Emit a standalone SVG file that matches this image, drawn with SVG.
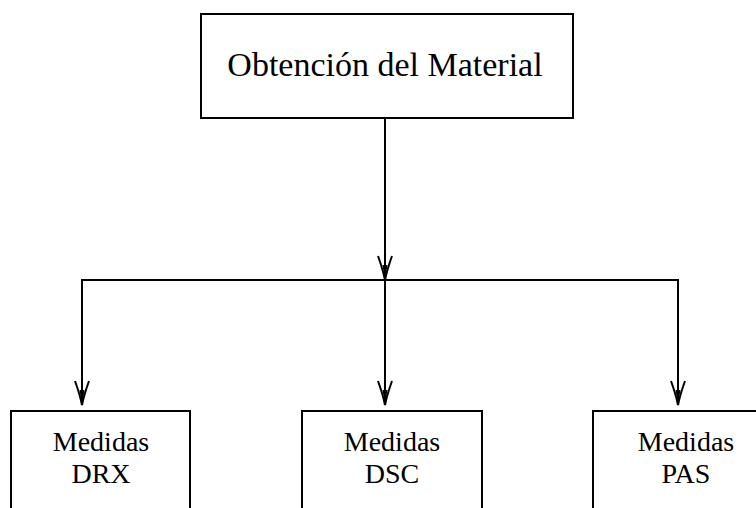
<svg xmlns="http://www.w3.org/2000/svg" width="756" height="508" viewBox="0 0 756 508">
<style>
.box{fill:#fff;stroke:#000;stroke-width:2}
.ln{fill:none;stroke:#000;stroke-width:2}
.t{font-family:"Liberation Serif","Times New Roman",serif;fill:#000;text-anchor:middle}
.big{font-size:34px}
.sm{font-size:28px}
</style>
<defs>
<marker id="arr" markerUnits="userSpaceOnUse" markerWidth="30" markerHeight="20" viewBox="-26 -10 28 20" refX="0" refY="0" orient="auto">
<path d="M-24,-7 Q-10,-2 0,0 Q-10,2 -24,7" fill="none" stroke="#000" stroke-width="2"/>
<path d="M-15,-2.5 L0,0 L-15,2.5 Z" fill="#000"/>
</marker>
</defs>
<rect width="756" height="508" fill="#fff"/>
<g id="connectors">
<line class="ln" x1="385" y1="118" x2="385" y2="280" marker-end="url(#arr)"/>
<line class="ln" x1="385" y1="280" x2="385" y2="405" marker-end="url(#arr)"/>
<polyline class="ln" points="82,405 82,280 678,280 678,405"/>
<line class="ln" x1="82" y1="395" x2="82" y2="405" marker-end="url(#arr)"/>
<line class="ln" x1="678" y1="395" x2="678" y2="405" marker-end="url(#arr)"/>
</g>
<g id="n_top">
<rect class="box" x="201" y="14" width="372" height="104"/>
<text class="t big" x="385" y="76">Obtención del Material</text>
</g>
<g id="n_drx">
<rect class="box" x="11" y="411" width="179" height="110"/>
<text class="t sm" x="101" y="451">Medidas</text>
<text class="t sm" x="101" y="483">DRX</text>
</g>
<g id="n_dsc">
<rect class="box" x="302" y="411" width="180" height="110"/>
<text class="t sm" x="392" y="451">Medidas</text>
<text class="t sm" x="392" y="483">DSC</text>
</g>
<g id="n_pas">
<rect class="box" x="593" y="411" width="180" height="110"/>
<text class="t sm" x="686" y="451">Medidas</text>
<text class="t sm" x="686" y="483">PAS</text>
</g>
</svg>
